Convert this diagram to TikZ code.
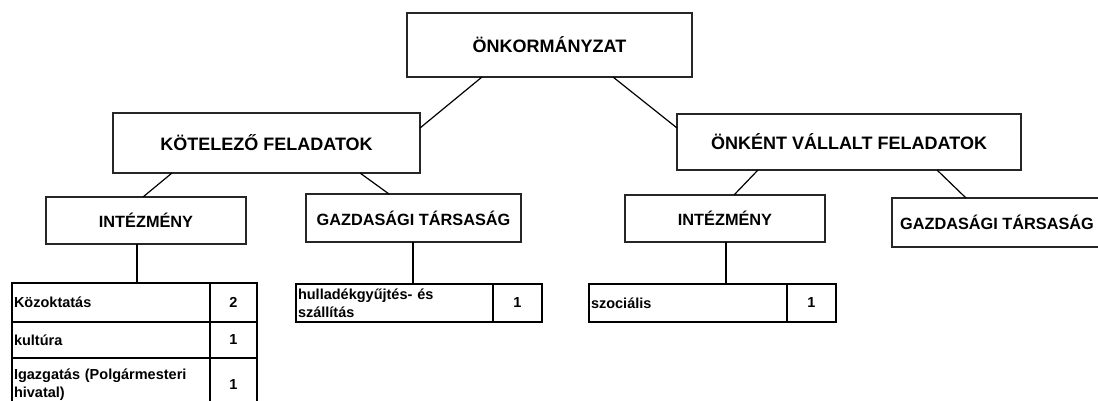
\documentclass[tikz,border=0pt]{standalone}
\usepackage{fontspec}
\setmainfont{Liberation Sans}
\usetikzlibrary{calc}
\begin{document}
\begin{tikzpicture}[x=1pt,y=-1pt,
  box/.style={draw=black!85, line width=1.3pt, fill=white, inner sep=0pt, outer sep=0pt, anchor=north west},
  lvlone/.style={box, font=\bfseries\fontsize{18}{20}\selectfont},
  lvltwo/.style={box, font=\bfseries\fontsize{16.3}{19}\selectfont},
  cell/.style={draw=black, line width=2.6pt, inner ysep=0pt, inner xsep=2pt, outer sep=0pt, anchor=north west, font=\bfseries\fontsize{14.5}{18}\selectfont},
  labelcell/.style={cell, align=left},
  numcell/.style={cell, align=center},
  link/.style={line width=1.2pt, draw=black}]
\useasboundingbox (0,0) rectangle (1098,401);
\clip (0,0) rectangle (1098,401);

% level 0 and 1
\node[lvlone, minimum width=285pt, minimum height=64pt] (top) at (407,13) {ÖNKORMÁNYZAT};
\node[lvlone, minimum width=307pt, minimum height=60pt] (kot) at (113,113) {KÖTELEZŐ FELADATOK};
\node[lvlone, minimum width=344pt, minimum height=56pt] (onk) at (677,114) {ÖNKÉNT VÁLLALT FELADATOK};

% level 2
\node[lvltwo, minimum width=200pt, minimum height=47pt] (intl) at (46,197) {INTÉZMÉNY};
\node[lvltwo, minimum width=215pt, minimum height=48pt] (gazl) at (306,194) {GAZDASÁGI TÁRSASÁG};
\node[lvltwo, minimum width=200pt, minimum height=47pt] (intr) at (625,195) {INTÉZMÉNY};
\node[lvltwo, minimum width=210pt, minimum height=49pt] (gazr) at (892,198) {GAZDASÁGI TÁRSASÁG};

% left table
\node[labelcell, text width=194pt, minimum width=198pt, minimum height=39pt] (t1a) at (12,283) {Közoktatás};
\node[numcell, text width=43pt, minimum width=47pt, minimum height=39pt] (t1an) at (210,283) {2};
\node[labelcell, text width=194pt, minimum width=198pt, minimum height=36pt] (t1b) at (12,322) {kultúra};
\node[numcell, text width=43pt, minimum width=47pt, minimum height=36pt] (t1bn) at (210,322) {1};
\node[labelcell, text width=194pt, minimum width=198pt, minimum height=54pt] (t1c) at (12,358) {Igazgatás (Polgármesteri\\hivatal)};
\node[numcell, text width=43pt, minimum width=47pt, minimum height=54pt] (t1cn) at (210,358) {1};

% middle table
\node[labelcell, text width=193pt, minimum width=197pt, minimum height=38pt] (t2a) at (296,284) {hulladékgyűjtés- és\\szállítás};
\node[numcell, text width=45pt, minimum width=49pt, minimum height=38pt] (t2an) at (493,284) {1};

% right table
\node[labelcell, text width=194pt, minimum width=198pt, minimum height=38pt] (t3a) at (589,284) {szociális};
\node[numcell, text width=45pt, minimum width=49pt, minimum height=38pt] (t3an) at (787,284) {1};

% connectors
\draw[link] ($(top.south west)+(75,0)$) -- ($(kot.north east)+(0,15)$);
\draw[link] ($(top.south west)+(206,0)$) -- ($(onk.north west)+(0,14)$);
\draw[link] ($(kot.south west)+(59,0)$) -- ($(intl.north west)+(97,0)$);
\draw[link] ($(kot.south west)+(247,0)$) -- ($(gazl.north west)+(83,0)$);
\draw[link] ($(onk.south west)+(81,0)$) -- ($(intr.north west)+(109,0)$);
\draw[link] ($(onk.south west)+(260,0)$) -- ($(gazr.north west)+(74,0)$);
\draw[link] ($(intl.south west)+(91,0)$) coordinate (a1) -- (a1 |- t1a.north);
\draw[link] ($(gazl.south west)+(107,0)$) coordinate (a2) -- (a2 |- t2a.north);
\draw[link] ($(intr.south west)+(101,0)$) coordinate (a3) -- (a3 |- t3a.north);
\end{tikzpicture}
\end{document}
